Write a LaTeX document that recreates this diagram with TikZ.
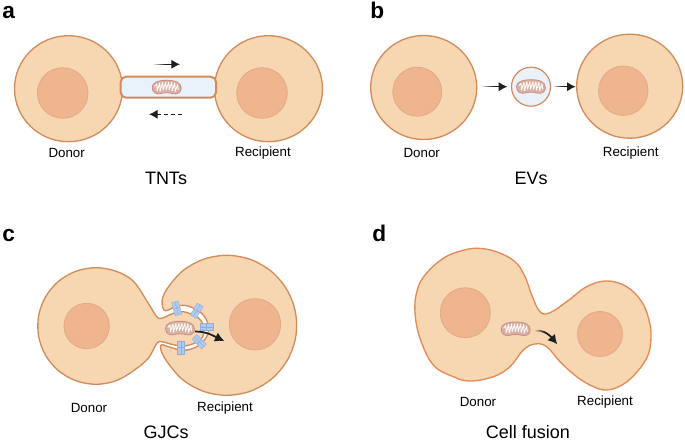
\documentclass[tikz,border=0pt]{standalone}
\usepackage{fontspec}
\setmainfont{Liberation Sans}
\usetikzlibrary{arrows.meta,fadings}
\definecolor{cellfill}{HTML}{F7D7B1}
\definecolor{celledge}{HTML}{D28C5C}
\definecolor{fusededge}{HTML}{E48A58}
\definecolor{nucfill}{HTML}{EFB58E}
\definecolor{nucedge}{HTML}{E2AA87}
\definecolor{vesfill}{HTML}{E9F1FB}
\definecolor{junction}{HTML}{B0CAEE}
\definecolor{junctionedge}{HTML}{8FAEDC}
\definecolor{mitofill}{HTML}{DDAFA4}
\definecolor{mitoedge}{HTML}{C48F84}
\definecolor{arrowink}{HTML}{1E1E1E}
\tikzset{
  cell/.style={fill=cellfill,draw=celledge,line width=1pt},
  nucleus/.style={circle,fill=nucfill,draw=nucedge,line width=.6pt,inner sep=0pt},
  caption/.style={font=\fontsize{13.5}{15}\selectfont,text=black,inner sep=0pt},
  cellname/.style={font=\fontsize{10}{12}\selectfont,text=black,inner sep=0pt},
  panel/.style={font=\bfseries\fontsize{17}{19}\selectfont,text=black,inner sep=0pt,anchor=base west},
  flow/.style={draw=arrowink,line width=.95pt,-{Latex[length=6.5pt,width=7pt]}},
  bentflow/.style={draw=arrowink,line width=1.3pt,-{Latex[length=7pt,width=7.5pt]}},
  tailfade/.style={path fading=east},
  mitopic/.pic={
    \path[fill=mitofill,draw=mitoedge,line width=.6pt]
      (-14.5,0) .. controls (-14.5,-4.5) and (-9,-7) .. (0,-7)
      .. controls (9,-7) and (14.5,-4.5) .. (14.5,1)
      .. controls (14.5,5.5) and (10,7.5) .. (6,6.3)
      .. controls (3,5.2) and (-3,5.2) .. (-6,6.3)
      .. controls (-10,7.5) and (-14.5,5.5) .. (-14.5,0) -- cycle;
    \draw[white,line width=.65pt,line join=round,line cap=round]
      (-12,-1) -- (-10,-3.5) -- (-9.5,3.5) -- (-7,-4.5) -- (-6.5,4) -- (-4,-5) -- (-3.5,2.5)
      -- (-1,-5) -- (-.5,2.5) -- (2,-5) -- (2.5,2.5) -- (5,-5) -- (5.5,3.5) -- (8,-4.5)
      -- (8.5,4) -- (11,-3) -- (11.5,2.5);
  },
  gapjunction/.pic={
    \path[fill=junction,draw=junctionedge,line width=.3pt] (-3.4,-6.8) rectangle (3.4,6.8);
    \draw[junctionedge,line width=.5pt] (-3.4,0) -- (3.4,0);
    \draw[junctionedge,line width=.3pt] (0,-6.8) -- (0,6.8);
  }
}
\begin{document}
\begin{tikzpicture}[x=.75pt,y=-.75pt]
\useasboundingbox (0,0) rectangle (685,443);

% panel a: tunnelling nanotube
\path[cell] (68.5,88.7) ellipse [x radius=54,y radius=53];
\path[cell] (268.5,88.7) ellipse [x radius=54,y radius=53];
\node[nucleus,minimum size=50.6*.75pt] (anucl) at (62.7,93) {};
\node[nucleus,minimum size=50.6*.75pt] (anucr) at (262,93) {};
\path[fill=vesfill,draw=celledge,line width=1.5pt,rounded corners=4pt] (120.7,76.7) rectangle (216,97.7);
\pic at (166.7,87.3) {mitopic};
\coordinate (aup1) at (153.3,64.3); \coordinate (aup2) at (180,64.3);
\coordinate (adn1) at (181.7,114.3); \coordinate (adn2) at (149,114.3);
\draw[flow] (aup1) -- (aup2);
\fill[white,tailfade] (152,62) rectangle (165,66.6);
\draw[flow,dash pattern=on 3pt off 2.2pt] (adn1) -- (adn2);
\node[cellname] (adonor) at (66.7,153.3) {Donor};
\node[cellname] (arecip) at (263,153.3) {Recipient};
\node[caption] (acap) at (166,178) {TNTs};
\node[panel] (alet) at (2,18) {a};

% panel b: extracellular vesicle
\path[cell] (423.7,87.5) ellipse [x radius=53,y radius=52];
\path[cell] (629.7,86.2) ellipse [x radius=53,y radius=52];
\node[nucleus,minimum size=49*.75pt] (bnucl) at (417.3,91.7) {};
\node[nucleus,minimum size=49.4*.75pt] (bnucr) at (623.3,90.7) {};
\node[circle,fill=vesfill,draw=celledge,line width=.9pt,minimum size=39*.75pt,inner sep=0pt] (bves) at (531,86.7) {};
\pic at (531,86.7) {mitopic};
\coordinate (bin) at (481.7,86.7); \coordinate (bmid) at (553.3,86.7); \coordinate (bout) at (575.7,86.7);
\draw[flow] (bin) -- ([xshift=-2.7]bves.west);
\draw[flow] (bmid) -- (bout);
\fill[white,tailfade] (480,84.5) rectangle (493,89);
\fill[white,tailfade] (552,84.5) rectangle (562,89);
\node[cellname] (bdonor) at (421.7,153.3) {Donor};
\node[cellname] (brecip) at (630.7,153.3) {Recipient};
\node[caption] (bcap) at (531,178) {EVs};
\node[panel] (blet) at (370,18) {b};

% panel c: gap junction channels
\path[cell] plot[smooth cycle,tension=.55] coordinates {
  (96,267.7) (116,271.2) (133.5,281.3) (148.3,303.3) (156.7,316.7) (161.7,318.3) (173.3,313.3)
  (183.3,311.7) (196.7,316.7) (203.3,325) (202.7,336.7) (195,343) (183.3,346) (171.7,344.3)
  (161.7,341.7) (156.7,343.3) (148.3,358.3) (133.5,370.7) (116,380.8) (96,384.3) (76,380.8)
  (58.5,370.7) (45.5,355.2) (38.6,336.1) (38.6,315.9) (45.5,296.9) (58.5,281.3) (76,271.2)};
\path[cell] plot[smooth cycle,tension=.55] coordinates {
  (164,310) (162,301.7) (166.1,290.3) (181.7,271.7) (202.8,259.5) (226.7,255.3) (250.6,259.5)
  (271.7,271.7) (287.3,290.3) (295.6,313.1) (295.6,337.5) (287.3,360.3) (271.7,378.9)
  (250.6,391.1) (226.7,395.3) (202.8,391.1) (181.7,378.9) (166.1,360.3) (160.7,349) (161.7,344.5)
  (168.3,346.7) (183.3,350.3) (196.7,346.7) (206.7,336.7) (208.3,325) (201.7,313.3) (188.3,306)
  (176.7,306) (168.3,310)};
\node[nucleus,minimum size=45.4*.75pt] (cnucl) at (86.7,326) {};
\node[nucleus,minimum size=51.4*.75pt] (cnucr) at (255,324.3) {};
\pic at (180,328.3) {mitopic};
\pic[rotate=15] at (176.7,308.3) {gapjunction};
\pic[rotate=-30] at (196.7,310.7) {gapjunction};
\pic[rotate=90] at (206.7,326.7) {gapjunction};
\pic[rotate=45] at (199.3,341.7) {gapjunction};
\pic[rotate=0] at (180.7,347.7) {gapjunction};
\coordinate (cflow1) at (195,331.5); \coordinate (cflow2) at (224.3,341);
\draw[bentflow] (cflow1) to[out=0,in=155] (cflow2);
\node[cellname] (cdonor) at (89,408) {Donor};
\node[cellname] (crecip) at (225,408) {Recipient};
\node[caption] (ccap) at (166,432) {GJCs};
\node[panel] (clet) at (2,241) {c};

% panel d: cell fusion
\path[cell,draw=fusededge] plot[smooth cycle,tension=.65] coordinates {
  (478.3,248.3) (497,252) (515,261.7) (525,276.7) (531.7,295) (540,311.7) (550,312.7)
  (566.7,301.7) (586.7,286.7) (606.7,281) (626.7,286.7) (641.7,301.7) (649,320) (651,337) (648,355)
  (637,372) (622,385) (606,390) (592,386) (576.7,376.7) (560,361.7) (546.7,346.7) (535,344)
  (523.3,350) (510,366.7) (493.3,376.7) (470,381) (453.3,376.7) (433.3,365) (420,338.3)
  (415,312) (417,291) (425,275) (443.3,258.3) (461.7,250.7)};
\node[nucleus,minimum size=50*.75pt] (dnucl) at (465.3,312.7) {};
\node[nucleus,minimum size=45*.75pt] (dnucr) at (600,334) {};
\pic at (515.7,329) {mitopic};
\coordinate (dflow1) at (535,330.7); \coordinate (dflow2) at (557.3,344.3);
\draw[bentflow] (dflow1) to[out=5,in=130] (dflow2);
\fill[cellfill,tailfade] (534,328) rectangle (544,335);
\node[cellname] (ddonor) at (478,402) {Donor};
\node[cellname] (drecip) at (605,402) {Recipient};
\node[caption] (dcap) at (528,432) {Cell fusion};
\node[panel] (dlet) at (372,241) {d};
\end{tikzpicture}
\end{document}
